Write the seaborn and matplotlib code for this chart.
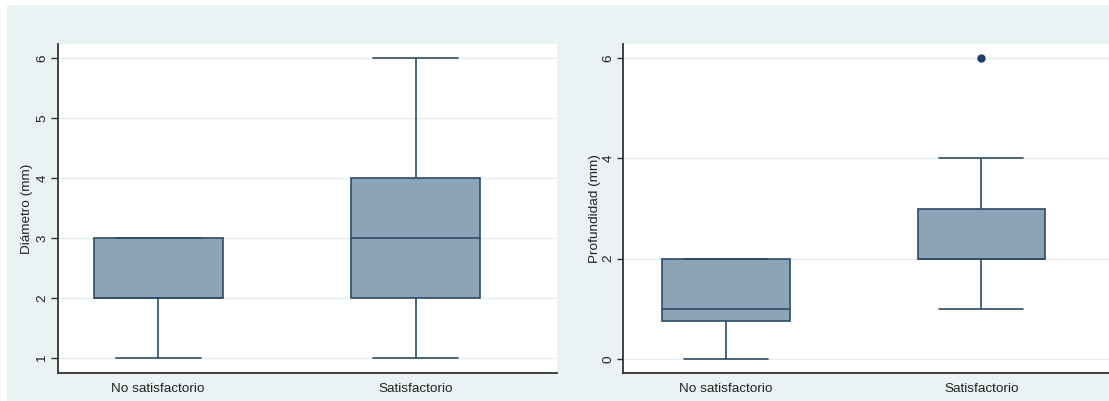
import matplotlib
matplotlib.use("Agg")
import matplotlib.pyplot as plt
import matplotlib.patches as mpatches
import seaborn as sns
import pandas as pd

categories = ["No satisfactorio", "Satisfactorio"]
# observations (mm) per group
diam_no_sat = [1, 2, 2, 2, 2, 3, 3, 3]
diam_sat = [1, 2, 2, 3, 3, 3, 4, 4, 6]
prof_no_sat = [0, 0, 1, 1, 1, 2, 2, 2]
prof_sat = [1, 2, 2, 2, 2, 3, 3, 4, 6]
diam_ticks = [1, 2, 3, 4, 5, 6]
prof_ticks = [0, 2, 4, 6]
ylabel_left = "Diámetro (mm)"
ylabel_right = "Profundidad (mm)"

sns.set_theme(style="white")
plt.rcParams["font.family"] = ["Liberation Sans", "DejaVu Sans"]

W, H = 1109, 401
fig = plt.figure(figsize=(W / 100, H / 100), dpi=100)
fig.patch.set_facecolor("white")
fig.patches.append(mpatches.Rectangle((7 / W, 0), 1, (H - 5) / H, transform=fig.transFigure,
                                      facecolor="#EAF2F3", edgecolor="none", zorder=-10))

def px_axes(x0, y0, x1, y1):
    return fig.add_axes([x0 / W, (H - y1) / H, (x1 - x0) / W, (y1 - y0) / H])

fill = "#8DA3B7"
edge = "#2F4C66"

def draw(ax, a, b, ticks, ylabel, ylim, xlim, tlen, lpad):
    df = pd.DataFrame({
        "grupo": [categories[0]] * len(a) + [categories[1]] * len(b),
        "valor": list(a) + list(b),
    })
    ax.set_facecolor("white")
    sns.boxplot(data=df, x="grupo", y="valor", order=categories, ax=ax,
                color=fill, saturation=1, width=0.5, whis=1.5, linecolor=edge,
                linewidth=1.2, capwidths=0.33,
                flierprops=dict(marker="o", markerfacecolor="#1A3F66",
                                markeredgecolor="#1A3F66", markersize=5))
    ax.set_ylim(*ylim)
    ax.set_xlim(*xlim)
    ax.set_yticks(ticks)
    ax.set_yticklabels([str(t) for t in ticks], rotation=90, va="center")
    ax.yaxis.grid(True, color="#E6EEF0", linewidth=1)
    ax.set_axisbelow(True)
    for s in ["top", "right"]:
        ax.spines[s].set_visible(False)
    for s in ["left", "bottom"]:
        ax.spines[s].set_color("#333333")
        ax.spines[s].set_linewidth(1.3)
    ax.tick_params(axis="y", left=True, length=tlen, width=1, color="#333333",
                   labelsize=9.7, pad=2, labelcolor="#222222")
    ax.tick_params(axis="x", bottom=False, length=0, labelsize=9.7, pad=7,
                   labelcolor="#222222")
    ax.set_xlabel("")
    ax.set_ylabel(ylabel, fontsize=9.7, labelpad=lpad, color="#222222")

ax1 = px_axes(58, 44, 557, 373)
draw(ax1, diam_no_sat, diam_sat, diam_ticks, ylabel_left, (0.75, 6.23), (-0.388, 1.547), 5, 2.5)

ax2 = px_axes(623, 44, 1109, 373)
draw(ax2, prof_no_sat, prof_sat, prof_ticks, ylabel_right, (-0.28, 6.28), (-0.404, 1.50), 4, 1.5)

fig.savefig("out.png", dpi=100, facecolor=fig.get_facecolor())
